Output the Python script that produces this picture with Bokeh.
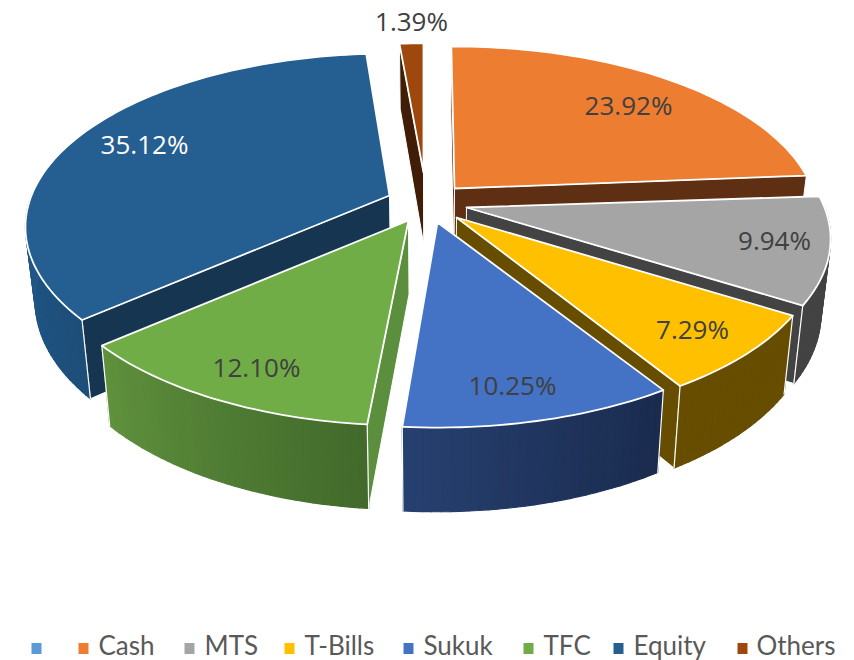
from bokeh.plotting import figure
from bokeh.models import Range1d
from bokeh.core.properties import value
from bokeh.embed import file_html
from bokeh.resources import INLINE
import math

# ---- data ----
categories = ["", "Cash", "MTS", "T-Bills", "Sukuk", "TFC", "Equity", "Others"]
shares = [0.0, 23.92, 9.94, 7.29, 10.25, 12.10, 35.12, 1.39]

# ---- style ----
top_colors = ["#5B9BD5", "#ED7D31", "#A5A5A5", "#FFC000", "#4472C4", "#70AD47", "#255E91", "#9E480E"]
face_colors = ["#5B9BD5", "#5F2F13", "#434343", "#664D00", "#1A2B4E", "#5C8F3D", "#163551", "#3F1D06"]
wall_from = ["#5B9BD5", "#5F2F13", "#434343", "#664D00", "#1A2B4E", "#426A2B", "#1D4E79", "#3F1D06"]
wall_to = ["#5B9BD5", "#5F2F13", "#434343", "#664D00", "#26406F", "#5F913D", "#21598A", "#3F1D06"]
# exploded-slice pivot on the page, slice scale and small turn of each slice
pivots = [(430, 200), (454, 188), (466, 207), (456, 217), (437, 222), (408, 220), (389, 195), (423, 172)]
scales = [1, 1, 1, 1, 1, 1, 1, 0.91]
turns = [0, -0.6, 0, 0, -0.4, 0.4, 0.6, 0]
paint_order = [7, 1, 6, 2, 5, 3, 4]
label_xy = [None, (628, 104), (774, 239), (692, 328), (512, 384), (256, 366), (144, 143), (411, 20)]
label_colors = [None, "#404040", "#404040", "#404040", "#404040", "#404040", "#FFFFFF", "#404040"]
legend_marker_x = [36, 83, 189, 289, 408, 528, 618, 742]
legend_text_x = [None, 98, 204, 304, 423, 543, 633, 756]
LEGEND_Y = 644
A, B, K = 167.8, 358.0, 0.1818


def project(i, deg):
    a = math.radians(deg + turns[i])
    s, c = math.sin(a), math.cos(a)
    den = 1 + K * c
    px, py = pivots[i]
    return px + scales[i] * B * s / den, py - scales[i] * A * c / den


def drop(pt):
    x, y = pt
    return x + (430 - x) * 0.024, y + 78 + (y - 304) * 0.05


def mix(c1, c2, t):
    v1 = [int(c1[j:j + 2], 16) for j in (1, 3, 5)]
    v2 = [int(c2[j:j + 2], 16) for j in (1, 3, 5)]
    return "#%02X%02X%02X" % tuple(round(u + (w - u) * t) for u, w in zip(v1, v2))


total = sum(shares)
bounds = [0.0]
for v in shares:
    bounds.append(bounds[-1] + v / total * 360)

xs, ys, fills, lines, widths = [], [], [], [], []


def add(poly, fill, line, width):
    xs.append([q[0] for q in poly])
    ys.append([q[1] for q in poly])
    fills.append(fill)
    lines.append(line)
    widths.append(width)


for i in paint_order:
    a0, a1 = bounds[i], bounds[i + 1]
    steps = max(4, int((a1 - a0) * 0.8))
    angles = [a0 + (a1 - a0) * n / steps for n in range(steps + 1)]
    arc = [project(i, d) for d in angles]
    low = [drop(q) for q in arc]
    pivot = pivots[i]
    pdown = drop(pivot)

    # radial faces that look towards the viewer
    if a0 > 180 or a0 < 1:
        add([pivot, arc[0], low[0], pdown], face_colors[i], "#FFFFFF", 1.0)
    if a1 < 180:
        add([pivot, arc[-1], low[-1], pdown], face_colors[i], "#FFFFFF", 1.0)

    # outer wall, front half only, as shaded strips
    visible = [n for n in range(steps) if 90 < (angles[n] + angles[n + 1]) / 2 < 270]
    for rank, n in enumerate(visible):
        t = rank / max(1, len(visible) - 1)
        col = mix(wall_from[i], wall_to[i], t)
        add([arc[n], arc[n + 1], low[n + 1], low[n]], col, col, 1.2)
    if visible:
        first, last = visible[0], visible[-1] + 1
        if 90 < a0 < 270:
            add([arc[first], low[first]], None, "#FFFFFF", 1.2)
        if 90 < a1 < 270:
            add([arc[last], low[last]], None, "#FFFFFF", 1.2)

    # top face
    add([pivot] + arc, top_colors[i], "#FFFFFF", 1.8)

p = figure(width=854, height=660, output_backend="svg", toolbar_location=None,
           x_range=Range1d(0, 854), y_range=Range1d(660, 0), min_border=0)
p.axis.visible = False
p.grid.visible = False
p.outline_line_color = None
p.background_fill_color = "#FFFFFF"
p.border_fill_color = "#FFFFFF"

p.patches(xs=xs, ys=ys, fill_color=fills, line_color=lines, line_width=widths, line_join="round")

for i, v in enumerate(shares):
    if label_xy[i] is None:
        continue
    p.text(x=[label_xy[i][0]], y=[label_xy[i][1]], text=[f"{v:.2f}%"], text_font=value("Open Sans"),
           text_font_size="26px", text_color=label_colors[i], text_align="center", text_baseline="middle")

p.rect(x=legend_marker_x, y=[648] * len(categories), width=10, height=11,
       fill_color=top_colors, line_color=None)
for i, name in enumerate(categories):
    if name:
        p.text(x=[legend_text_x[i]], y=[LEGEND_Y], text=[name], text_font=value("Lato"),
               text_font_size="26px", text_color="#595959", text_align="left", text_baseline="middle")

open("out.html", "w").write(file_html(p, INLINE))
